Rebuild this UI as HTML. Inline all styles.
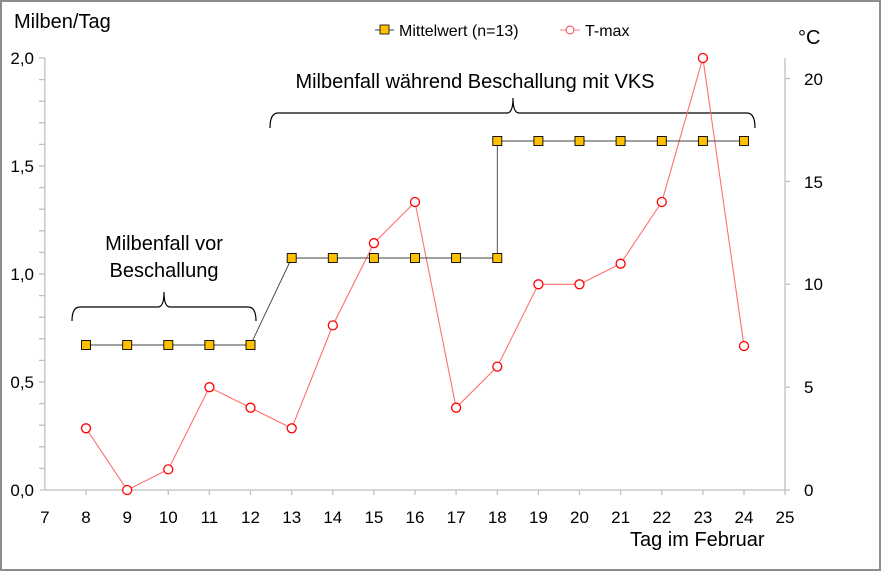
<!DOCTYPE html>
<html><head><meta charset="utf-8"><style>
body{margin:0;background:#fff}
svg{display:block;font-family:"Liberation Sans",sans-serif}
</style></head><body>
<svg width="881" height="571" viewBox="0 0 881 571">
<rect x="1" y="1" width="879" height="569" fill="#fff" stroke="#8c8c8c" stroke-width="2"/>
<g stroke="#bfbfbf" stroke-width="1.3">
<line x1="44.9" y1="58" x2="44.9" y2="490"/>
<line x1="785" y1="58" x2="785" y2="490"/>
<line x1="40" y1="490" x2="790" y2="490"/>
<line x1="39" y1="58" x2="44.9" y2="58"/><line x1="39" y1="79.6" x2="44.9" y2="79.6"/><line x1="39" y1="101.2" x2="44.9" y2="101.2"/><line x1="39" y1="122.8" x2="44.9" y2="122.8"/><line x1="39" y1="144.4" x2="44.9" y2="144.4"/><line x1="39" y1="166" x2="44.9" y2="166"/><line x1="39" y1="187.6" x2="44.9" y2="187.6"/><line x1="39" y1="209.2" x2="44.9" y2="209.2"/><line x1="39" y1="230.8" x2="44.9" y2="230.8"/><line x1="39" y1="252.4" x2="44.9" y2="252.4"/><line x1="39" y1="274" x2="44.9" y2="274"/><line x1="39" y1="295.6" x2="44.9" y2="295.6"/><line x1="39" y1="317.2" x2="44.9" y2="317.2"/><line x1="39" y1="338.8" x2="44.9" y2="338.8"/><line x1="39" y1="360.4" x2="44.9" y2="360.4"/><line x1="39" y1="382" x2="44.9" y2="382"/><line x1="39" y1="403.6" x2="44.9" y2="403.6"/><line x1="39" y1="425.2" x2="44.9" y2="425.2"/><line x1="39" y1="446.8" x2="44.9" y2="446.8"/><line x1="39" y1="468.4" x2="44.9" y2="468.4"/>
<line x1="785" y1="78.6" x2="790" y2="78.6"/><line x1="785" y1="181.4" x2="790" y2="181.4"/><line x1="785" y1="284.3" x2="790" y2="284.3"/><line x1="785" y1="387.2" x2="790" y2="387.2"/>
<g>
<line x1="86" y1="490" x2="86" y2="495"/><line x1="127.2" y1="490" x2="127.2" y2="495"/><line x1="168.3" y1="490" x2="168.3" y2="495"/><line x1="209.4" y1="490" x2="209.4" y2="495"/><line x1="250.5" y1="490" x2="250.5" y2="495"/><line x1="291.7" y1="490" x2="291.7" y2="495"/><line x1="332.8" y1="490" x2="332.8" y2="495"/><line x1="373.9" y1="490" x2="373.9" y2="495"/><line x1="415" y1="490" x2="415" y2="495"/><line x1="456.1" y1="490" x2="456.1" y2="495"/><line x1="497.3" y1="490" x2="497.3" y2="495"/><line x1="538.4" y1="490" x2="538.4" y2="495"/><line x1="579.5" y1="490" x2="579.5" y2="495"/><line x1="620.6" y1="490" x2="620.6" y2="495"/><line x1="661.8" y1="490" x2="661.8" y2="495"/><line x1="702.9" y1="490" x2="702.9" y2="495"/><line x1="744" y1="490" x2="744" y2="495"/><line x1="785" y1="490" x2="785" y2="495"/>
</g>
</g>
<g font-size="17" fill="#000" text-anchor="end">
<text x="34" y="64">2,0</text><text x="34" y="172">1,5</text><text x="34" y="280">1,0</text><text x="34" y="388">0,5</text><text x="34" y="496">0,0</text>
</g>
<g font-size="17" fill="#000" text-anchor="start">
<text x="804" y="85">20</text><text x="804" y="188">15</text><text x="804" y="290">10</text><text x="804" y="393">5</text><text x="804" y="496">0</text>
</g>
<g font-size="17" fill="#000" text-anchor="middle">
<text x="44.9" y="523">7</text><text x="86" y="523">8</text><text x="127.2" y="523">9</text><text x="168.3" y="523">10</text><text x="209.4" y="523">11</text><text x="250.5" y="523">12</text><text x="291.7" y="523">13</text><text x="332.8" y="523">14</text><text x="373.9" y="523">15</text><text x="415" y="523">16</text><text x="456.1" y="523">17</text><text x="497.3" y="523">18</text><text x="538.4" y="523">19</text><text x="579.5" y="523">20</text><text x="620.6" y="523">21</text><text x="661.8" y="523">22</text><text x="702.9" y="523">23</text><text x="744" y="523">24</text><text x="785" y="523">25</text>
</g>
<text x="630" y="546" font-size="20">Tag im Februar</text>
<text x="14" y="28" font-size="20">Milben/Tag</text>
<text x="798" y="44" font-size="20">°C</text>
<text x="164" y="250" font-size="20" text-anchor="middle">Milbenfall vor</text>
<text x="164" y="277" font-size="20" text-anchor="middle">Beschallung</text>
<text x="475" y="88" font-size="20" text-anchor="middle">Milbenfall während Beschallung mit VKS</text>
<g fill="none" stroke="#000" stroke-width="1.2">
<path d="M72,321 Q72,307 80,307 L158,307 Q164,307 164,292 Q164,307 170,307 L248,307 Q256,307 256,321"/>
<path d="M270,128 Q270,113 278,113 L507,113 Q513,113 513,98 Q513,113 519,113 L747,113 Q755,113 755,128"/>
</g>
<g>
<line x1="375" y1="30" x2="394" y2="30" stroke="#404040"/>
<rect x="380" y="25" width="9" height="9" fill="#ffc000" stroke="#000" stroke-width="0.8"/>
<text x="399" y="36" font-size="16">Mittelwert (n=13)</text>
<line x1="560" y1="30" x2="580" y2="30" stroke="#ff8080"/>
<circle cx="570" cy="30" r="4" fill="#fff" stroke="#ff4040"/>
<text x="585" y="36" font-size="16">T-max</text>
</g>
<polyline fill="none" stroke="#ff7070" stroke-width="1.1" points="86,428.3 127.2,490 168.3,469.4 209.4,387.2 250.5,407.7 291.7,428.3 332.8,325.4 373.9,243.2 415,202 456.1,407.7 497.3,366.6 538.4,284.3 579.5,284.3 620.6,263.7 661.8,202 702.9,58 744,346"/>
<g fill="#fff" stroke="#ff0000" stroke-width="1.3">
<circle cx="86" cy="428.3" r="4.5"/><circle cx="127.2" cy="490" r="4.5"/><circle cx="168.3" cy="469.4" r="4.5"/><circle cx="209.4" cy="387.2" r="4.5"/><circle cx="250.5" cy="407.7" r="4.5"/><circle cx="291.7" cy="428.3" r="4.5"/><circle cx="332.8" cy="325.4" r="4.5"/><circle cx="373.9" cy="243.2" r="4.5"/><circle cx="415" cy="202" r="4.5"/><circle cx="456.1" cy="407.7" r="4.5"/><circle cx="497.3" cy="366.6" r="4.5"/><circle cx="538.4" cy="284.3" r="4.5"/><circle cx="579.5" cy="284.3" r="4.5"/><circle cx="620.6" cy="263.7" r="4.5"/><circle cx="661.8" cy="202" r="4.5"/><circle cx="702.9" cy="58" r="4.5"/><circle cx="744" cy="346" r="4.5"/>
</g>
<polyline fill="none" stroke="#404040" stroke-width="0.9" points="86,345 250.5,345 291.7,258 497.3,258 497.3,141 744,141"/>
<g fill="#ffc000" stroke="#000" stroke-width="0.9">
<rect x="81.5" y="340.5" width="9" height="9"/><rect x="122.7" y="340.5" width="9" height="9"/><rect x="163.8" y="340.5" width="9" height="9"/><rect x="204.9" y="340.5" width="9" height="9"/><rect x="246" y="340.5" width="9" height="9"/>
<rect x="287.2" y="253.5" width="9" height="9"/><rect x="328.3" y="253.5" width="9" height="9"/><rect x="369.4" y="253.5" width="9" height="9"/><rect x="410.5" y="253.5" width="9" height="9"/><rect x="451.6" y="253.5" width="9" height="9"/><rect x="492.8" y="253.5" width="9" height="9"/>
<rect x="492.8" y="136.5" width="9" height="9"/><rect x="533.9" y="136.5" width="9" height="9"/><rect x="575" y="136.5" width="9" height="9"/><rect x="616.1" y="136.5" width="9" height="9"/><rect x="657.3" y="136.5" width="9" height="9"/><rect x="698.4" y="136.5" width="9" height="9"/><rect x="739.5" y="136.5" width="9" height="9"/>
</g>
</svg>
</body></html>
